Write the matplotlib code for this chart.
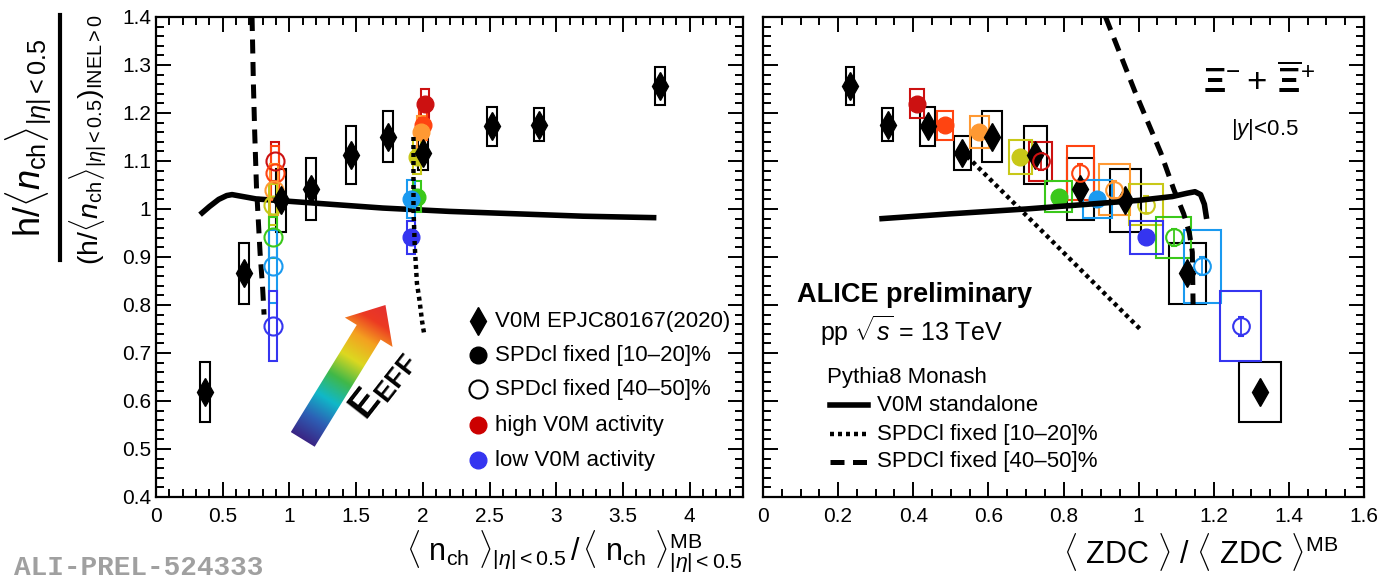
import numpy as np
import matplotlib
matplotlib.use('Agg')
import matplotlib.pyplot as plt
from matplotlib.patches import Polygon
from matplotlib.colors import LinearSegmentedColormap
from matplotlib.ticker import MultipleLocator, FormatStrFormatter

plt.rcParams['font.family'] = ['Liberation Sans', 'DejaVu Sans']
plt.rcParams['mathtext.fontset'] = 'custom'
plt.rcParams['mathtext.rm'] = 'Liberation Sans'
plt.rcParams['mathtext.it'] = 'Liberation Sans:italic'
plt.rcParams['mathtext.bf'] = 'Liberation Sans:bold'

# ---- data ----
# V0M EPJC80167(2020), ordered by increasing multiplicity
v0m_nch = [0.37, 0.66, 0.94, 1.16, 1.46, 1.74, 2.00, 2.52, 2.87, 3.78]
v0m_zdc = [1.323, 1.13, 0.965, 0.845, 0.725, 0.61, 0.531, 0.438, 0.332, 0.232]
v0m_val = [0.619, 0.866, 1.018, 1.042, 1.112, 1.151, 1.117, 1.172, 1.176, 1.256]
v0m_sys = [0.063, 0.064, 0.066, 0.065, 0.060, 0.054, 0.036, 0.040, 0.034, 0.039]
v0m_zdc_sys = [0.056, 0.050, 0.041, 0.037, 0.030, 0.026, 0.023, 0.019, 0.015, 0.011]
v0m_stat = [0.01, 0.01, 0.01, 0.01, 0.01, 0.01, 0.01, 0.01, 0.01, 0.012]

# colours: high V0M activity -> low V0M activity
act_colors = ['#cc1111', '#ff4411', '#ff9933', '#c8c818', '#3ac81a', '#1a9af0', '#3535f0']

# SPDcl fixed [10-20]%
spd1020_nch = [2.02, 2.00, 1.985, 1.96, 1.96, 1.91, 1.91]
spd1020_zdc = [0.41, 0.484, 0.576, 0.685, 0.787, 0.89, 1.02]
spd1020_val = [1.219, 1.174, 1.160, 1.108, 1.026, 1.021, 0.941]
spd1020_sys = [0.030, 0.031, 0.033, 0.036, 0.032, 0.040, 0.034]
spd1020_zdc_sys = [0.019, 0.022, 0.026, 0.030, 0.035, 0.039, 0.044]

# SPDcl fixed [40-50]%
spd4050_nch = [0.89, 0.89, 0.885, 0.88, 0.875, 0.875, 0.875]
spd4050_zdc = [0.739, 0.845, 0.935, 1.019, 1.093, 1.17, 1.272]
spd4050_val = [1.099, 1.075, 1.040, 1.009, 0.941, 0.881, 0.756]
spd4050_sys = [0.040, 0.057, 0.053, 0.043, 0.043, 0.076, 0.073]
spd4050_zdc_sys = [0.031, 0.036, 0.041, 0.045, 0.047, 0.050, 0.055]
spd4050_stat = [0.018, 0.018, 0.018, 0.018, 0.018, 0.019, 0.02]

# Pythia8 Monash
py_v0m_nch = [0.346, 0.40, 0.47, 0.53, 0.57, 0.65, 0.75, 0.95, 1.30, 1.70, 2.20, 2.70, 3.20, 3.73]
py_v0m_nch_val = [0.992, 1.005, 1.020, 1.028, 1.030, 1.026, 1.021, 1.017, 1.010, 1.002, 0.995, 0.990, 0.985, 0.982]
py_1020_nch = [1.93, 1.93, 1.94, 1.956, 1.975, 1.995, 2.01]
py_1020_nch_val = [1.15, 1.00, 0.92, 0.845, 0.81, 0.765, 0.74]
py_4050_nch = [0.72, 0.73, 0.74, 0.753, 0.78, 0.80, 0.81]
py_4050_nch_val = [1.40, 1.262, 1.158, 1.047, 0.909, 0.832, 0.78]

py_v0m_zdc = [0.317, 0.50, 0.70, 0.90, 1.00, 1.09, 1.13, 1.15, 1.165, 1.175, 1.18]
py_v0m_zdc_val = [0.980, 0.990, 1.000, 1.012, 1.018, 1.026, 1.033, 1.036, 1.030, 1.010, 0.985]
py_1020_zdc = [0.543, 0.78, 1.005]
py_1020_zdc_val = [1.11, 0.925, 0.749]
py_4050_zdc = [0.912, 0.99, 1.059, 1.094, 1.12, 1.135, 1.143, 1.145]
py_4050_zdc_val = [1.40, 1.245, 1.117, 1.04, 0.99, 0.95, 0.91, 0.80]

W, H = 1380, 580
fig = plt.figure(figsize=(W / 100, H / 100), dpi=100)
axL = fig.add_axes([156 / W, 1 - 497 / H, (743 - 156) / W, (497 - 17) / H])
axR = fig.add_axes([763 / W, 1 - 497 / H, (1364 - 763) / W, (497 - 17) / H])


def style(ax, xmax, xmaj, xmin):
    ax.set_xlim(0, xmax)
    ax.set_ylim(0.4, 1.4)
    ax.xaxis.set_major_locator(MultipleLocator(xmaj))
    ax.xaxis.set_minor_locator(MultipleLocator(xmin))
    ax.yaxis.set_major_locator(MultipleLocator(0.1))
    ax.yaxis.set_minor_locator(MultipleLocator(0.02))
    ax.xaxis.set_major_formatter(FormatStrFormatter('%g'))
    ax.yaxis.set_major_formatter(FormatStrFormatter('%g'))
    ax.tick_params(which='both', direction='in', top=True, right=True, width=1.4, labelsize=15)
    ax.tick_params(which='major', length=11)
    ax.tick_params(which='minor', length=6)
    ax.tick_params(axis='x', pad=7)
    for s in ax.spines.values():
        s.set_linewidth(1.6)


style(axL, 4.4, 0.5, 0.1)
style(axR, 1.6, 0.2, 0.05)
axR.tick_params(labelleft=False)

dash = dict(color='k', lw=3.6, dashes=(2.8, 1.7), solid_capstyle='butt', dash_capstyle='butt')
dots = dict(color='k', lw=3.2, dashes=(0.9, 0.9), dash_capstyle='butt')


def boxes(ax, x, y, ex, ey, c):
    ax.bar(x, 2 * np.array(ey), width=2 * np.array(ex), bottom=np.array(y) - np.array(ey),
           fill=False, edgecolor=c, linewidth=1.5, align='center', zorder=3)


# ---------------- left panel ----------------
ax = axL
ax.plot(py_v0m_nch, py_v0m_nch_val, color='k', lw=4, zorder=2)
ax.plot(py_4050_nch, py_4050_nch_val, **dash, zorder=2)
ax.plot(py_1020_nch, py_1020_nch_val, **dots, zorder=6)

boxes(ax, v0m_nch, v0m_val, [0.037] * len(v0m_nch), v0m_sys, 'k')
ax.errorbar(v0m_nch, v0m_val, yerr=v0m_stat, fmt='d', color='k', ms=14, elinewidth=1.2, zorder=4)
for i, c in enumerate(act_colors):
    ax.bar(spd4050_nch[i], 2 * spd4050_sys[i], width=0.06, bottom=spd4050_val[i] - spd4050_sys[i],
           fill=False, edgecolor=c, linewidth=1.5, zorder=3)
    ax.plot(spd4050_nch[i], spd4050_val[i], 'o', mfc='none', mec=c, mew=1.5, ms=13, zorder=4)
    ax.bar(spd1020_nch[i], 2 * spd1020_sys[i], width=0.06, bottom=spd1020_val[i] - spd1020_sys[i],
           fill=False, edgecolor=c, linewidth=1.5, zorder=3)
    ax.plot(spd1020_nch[i], spd1020_val[i], 'o', color=c, ms=12, zorder=4)

# rainbow arrow (E_EFF)
rb = LinearSegmentedColormap.from_list('rb', [
    (0.0, '#3a2584'), (0.15, '#2d5fb5'), (0.3, '#10b8c8'), (0.45, '#40b848'),
    (0.6, '#dcd820'), (0.75, '#f4a020'), (0.88, '#ec3a22'), (1.0, '#e43030')])


def rainbow_arrow(ax, tail, tip, shaft, head, headlen):
    T = ax.transData
    p0 = T.transform(tail)
    p1 = T.transform(tip)
    d = p1 - p0
    L = np.hypot(*d)
    u = d / L
    n = np.array([-u[1], u[0]])
    base = p1 - u * headlen
    pts = np.array([p0 + n * shaft / 2, base + n * shaft / 2, base + n * head / 2, p1,
                    base - n * head / 2, base - n * shaft / 2, p0 - n * shaft / 2])
    pd = T.inverted().transform(pts)
    poly = Polygon(pd, closed=True, fc='none', ec='none')
    ax.add_patch(poly)
    x0, y0 = pd.min(0)
    x1, y1 = pd.max(0)
    gx, gy = np.meshgrid(np.linspace(x0, x1, 300), np.linspace(y0, y1, 300))
    disp = T.transform(np.c_[gx.ravel(), gy.ravel()])
    t = ((disp - p0) @ u) / L
    im = ax.imshow(t.reshape(gx.shape), extent=(x0, x1, y0, y1), origin='lower', cmap=rb,
                   vmin=0, vmax=1, aspect='auto', interpolation='bilinear', zorder=2)
    im.set_clip_path(poly)


rainbow_arrow(ax, (1.10, 0.52), (1.72, 0.80), 28, 56, 32)
ax.set_xlim(0, 4.4)
ax.set_ylim(0.4, 1.4)
ax.text(1.70, 0.635, r'$\mathbf{E}_{\mathbf{EFF}}$', fontsize=28, rotation=52,
        ha='center', va='center')

# legend (left)
leg_y = [0.366, 0.295, 0.2245, 0.150, 0.077]
leg_txt = ['V0M EPJC80167(2020)', 'SPDcl fixed [10\u201320]%', 'SPDcl fixed [40\u201350]%',
           'high V0M activity', 'low V0M activity']
ax.plot(0.549, leg_y[0], 'd', color='k', ms=14, transform=ax.transAxes)
ax.plot(0.549, leg_y[1], 'o', color='k', ms=12, transform=ax.transAxes)
ax.plot(0.549, leg_y[2], 'o', mfc='none', mec='k', mew=1.5, ms=13, transform=ax.transAxes)
ax.plot(0.549, leg_y[3], 'o', color='#cc0000', ms=12, transform=ax.transAxes)
ax.plot(0.549, leg_y[4], 'o', color='#3535f0', ms=12, transform=ax.transAxes)
for yy, tt in zip(leg_y, leg_txt):
    ax.text(0.578, yy, tt, fontsize=16, va='center', ha='left', transform=ax.transAxes)

axL.set_xlabel(r'$\langle\ \mathrm{n}_{\mathrm{ch}}\ \rangle_{|\eta|{<}0.5}\,/\,\langle\ \mathrm{n}_{\mathrm{ch}}\ \rangle^{\mathrm{MB}}_{|\eta|{<}0.5}$',
               fontsize=22, loc='right', labelpad=2)

# ---------------- right panel ----------------
ax = axR
ax.plot(py_v0m_zdc, py_v0m_zdc_val, color='k', lw=4, zorder=5)
ax.plot(py_1020_zdc, py_1020_zdc_val, **dots, zorder=5)
ax.plot(py_4050_zdc, py_4050_zdc_val, **dash, zorder=5)

boxes(ax, v0m_zdc, v0m_val, v0m_zdc_sys, v0m_sys, 'k')
ax.errorbar(v0m_zdc, v0m_val, yerr=v0m_stat, fmt='d', color='k', ms=14, elinewidth=1.2, zorder=4)
for i, c in enumerate(act_colors):
    ax.bar(spd4050_zdc[i], 2 * spd4050_sys[i], width=2 * spd4050_zdc_sys[i],
           bottom=spd4050_val[i] - spd4050_sys[i], fill=False, edgecolor=c, linewidth=1.5, zorder=3)
    ax.errorbar(spd4050_zdc[i], spd4050_val[i], yerr=spd4050_stat[i], fmt='o', mfc='none', mec=c,
                ecolor=c, mew=1.5, ms=12, capsize=2, elinewidth=1.3, zorder=4)
    ax.bar(spd1020_zdc[i], 2 * spd1020_sys[i], width=2 * spd1020_zdc_sys[i],
           bottom=spd1020_val[i] - spd1020_sys[i], fill=False, edgecolor=c, linewidth=1.5, zorder=3)
    ax.plot(spd1020_zdc[i], spd1020_val[i], 'o', color=c, ms=12, zorder=4)

ax.text(0.825, 0.865, r'$\mathbf{\Xi}^{-}+\,\overline{\mathbf{\Xi}}^{+}$', fontsize=25,
        ha='center', va='center', transform=ax.transAxes)
ax.text(0.835, 0.765, r'$|y|$<0.5', fontsize=16, ha='center', va='center', transform=ax.transAxes)
ax.text(0.057, 0.42, 'ALICE preliminary', fontsize=19.5, fontweight='bold', va='center',
        transform=ax.transAxes)
ax.text(0.095, 0.347, r'pp $\sqrt{s}$ = 13 TeV', fontsize=18, va='center', transform=ax.transAxes)
ax.text(0.106, 0.249, 'Pythia8 Monash', fontsize=16, va='center', transform=ax.transAxes)
ly = [0.191, 0.131, 0.073]
ax.plot([0.111, 0.175], [ly[0]] * 2, color='k', lw=4, transform=ax.transAxes)
ax.plot([0.111, 0.175], [ly[1]] * 2, **dots, transform=ax.transAxes)
ax.plot([0.111, 0.175], [ly[2]] * 2, **dash, transform=ax.transAxes)
for yy, tt in zip(ly, ['V0M standalone', 'SPDCl fixed [10\u201320]%', 'SPDCl fixed [40\u201350]%']):
    ax.text(0.19, yy, tt, fontsize=16, va='center', transform=ax.transAxes)

axR.set_xlabel(r'$\langle$ ZDC $\rangle$ / $\langle$ ZDC $\rangle^{\mathrm{MB}}$', fontsize=22,
               loc='right')
axR.xaxis.set_label_coords(0.957, -0.07)

# y label (fraction)
fig.text(28 / W, 1 - 138 / H, r'$\mathrm{h}/\langle n_{\mathrm{ch}}\rangle_{|\eta|{<}0.5}$', fontsize=26,
         rotation=90, ha='center', va='center')
fig.text(88 / W, 1 - 140 / H, r'$(\mathrm{h}/\langle n_{\mathrm{ch}}\rangle_{|\eta|{<}0.5})_{\mathrm{INEL{>}0}}$',
         fontsize=20.5, rotation=90, ha='center', va='center')
fig.add_artist(plt.Line2D([60 / W, 60 / W], [1 - 15 / H, 1 - 260 / H], color='k', lw=3))

fig.text(14 / W, 1 - 568 / H, 'ALI-PREL-524333', fontsize=20, fontweight='bold',
         family='Liberation Mono', color='#a0a0a0', va='center')

fig.savefig('out.png', dpi=100)
